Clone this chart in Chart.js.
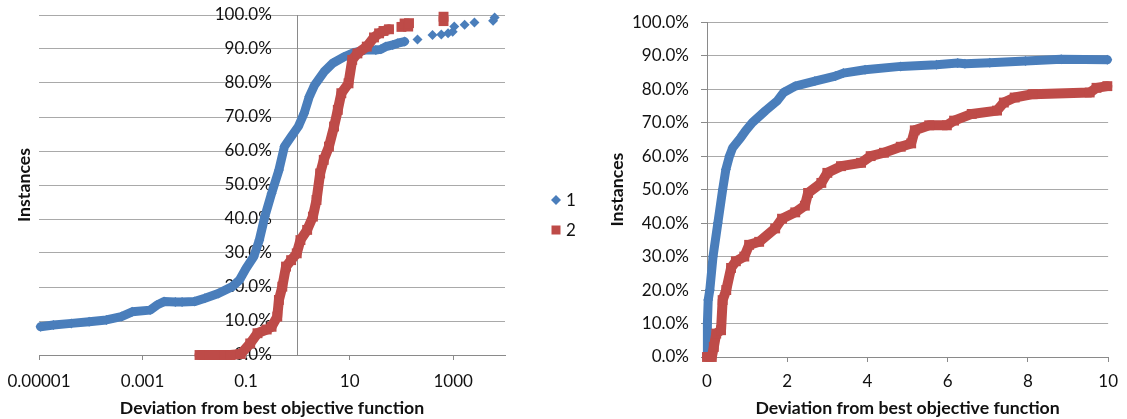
<!DOCTYPE html>
<html>
<head>
<meta charset="utf-8">
<script src="https://cdn.jsdelivr.net/npm/chart.js@4.4.0/dist/chart.umd.min.js"></script>
<style>
  body { margin: 0; background: #fff; }
  #wrap { position: relative; width: 1127px; height: 419px; }
  #left { position: absolute; left: 0; top: 0; }
  #right { position: absolute; left: 590px; top: 0; }
</style>
</head>
<body>
<div id="wrap">
  <canvas id="left" width="590" height="419"></canvas>
  <canvas id="right" width="537" height="419"></canvas>
</div>
<script>
const seriesNames = ['1', '2'];
const seriesColors = ['#4A7EBB', '#BE4B48'];

// left chart: deviation on a log axis
const leftX1 = [1.07e-5, 1.9e-5, 4.2e-5, 9.3e-5, 2.0e-4, 3.9e-4, 6.3e-4, 1.4e-3, 1.9e-3, 2.6e-3,
  4.3e-3, 5.8e-3, 0.010, 0.016, 0.029, 0.054, 0.074, 0.10, 0.14, 0.18,
  0.23, 0.31, 0.43, 0.55, 0.74, 1.02, 1.32, 1.66, 2.1, 3.2,
  4.7, 7.6, 12, 19.5, 32, 40, 50, 68, 85, 115,
  204, 398, 589, 794, 977, 1047, 1660, 2570, 5890, 6310];
const leftY1 = [8.3, 8.8, 9.3, 9.8, 10.3, 11.3, 12.7, 13.2, 14.7, 15.7,
  15.6, 15.6, 15.7, 16.7, 18.1, 20.1, 22, 25.5, 28.9, 33.8,
  40.7, 47.5, 54.4, 61.3, 64.2, 67.2, 71.1, 76, 79.4, 83.3,
  85.8, 87.6, 88.9, 89.7, 89.7, 89.9, 90.7, 91.2, 91.7, 92.2,
  92.8, 94.1, 94.3, 94.6, 95.1, 96.6, 97.1, 97.8, 98.3, 99.3];
const leftX2 = [0.0126, 0.025, 0.05, 0.079, 0.12, 0.166, 0.25, 0.31, 0.40, 0.43,
  0.50, 0.59, 0.74, 0.95, 1.12, 1.51, 1.95, 2.29, 2.69, 3.16,
  3.98, 5.0, 5.9, 6.9, 9.5, 11.2, 14.1, 21.4, 29.5, 37,
  45, 57.5, 100, 115, 135, 140, 650, 650];
const leftY2 = [0, 0, 0, 0.3, 3.4, 6.4, 7.5, 8.3, 11.3, 16.2,
  20.1, 26, 27.9, 29.9, 33.8, 36.8, 40.7, 45.6, 53.4, 57.4,
  61.3, 67.2, 72.1, 77, 79.9, 86.8, 88.7, 90.7, 93.4, 94.6,
  95.3, 95.8, 96.5, 97.5, 96.6, 97.6, 98.2, 99.5];
// past these x values the markers stand alone instead of forming a band
const leftBandEnd = [115, 57.5];
const leftXTicks = [0.00001, 0.001, 0.1, 10, 1000];
const leftXTickLabels = ['0.00001', '0.001', '0.1', '10', '1000'];

// right chart: deviation 0..10
const rightX1 = [0, 0.01, 0.03, 0.07, 0.15, 0.27, 0.39, 0.47, 0.56, 0.64,
  0.84, 0.97, 1.13, 1.46, 1.75, 1.91, 2.2, 2.69, 3.2, 3.4,
  3.94, 4.83, 5.72, 6.25, 6.43, 7.05, 7.94, 8.83, 9.98];
const rightY1 = [1, 10, 17, 20, 30, 40, 50, 56, 60, 62.5,
  65.5, 67.7, 70, 73.6, 76.5, 79, 80.9, 82.4, 83.9, 84.8,
  85.8, 86.8, 87.3, 87.8, 87.6, 87.9, 88.4, 88.9, 88.8];
const rightX2 = [0, 0.12, 0.17, 0.23, 0.35, 0.39, 0.48, 0.6, 0.72, 0.93,
  1.05, 1.3, 1.7, 1.87, 2.2, 2.44, 2.52, 2.85, 3.0, 3.34,
  3.84, 4.08, 4.41, 4.83, 5.09, 5.18, 5.54, 5.98, 6.16, 6.6,
  7.23, 7.4, 7.67, 8.12, 9.54, 9.71, 9.98];
const rightY2 = [0, 0, 3, 7, 8, 17, 20, 26.6, 28.6, 30,
  33.5, 34.4, 38.4, 41.3, 43.2, 45.2, 49, 52, 55, 57,
  58, 60, 61, 62.8, 63.8, 67.7, 69.2, 69.2, 70.6, 72.6,
  73.6, 76, 77.5, 78.5, 79, 80.4, 80.9];

const xTitle = 'Deviation from best objective function';
const yTitle = 'Instances';

const textColor = '#111';
const gridColor = '#a9a9a9';
const axisColor = '#8a8a8a';
const boldFont = { family: 'Lato', size: 17.7, weight: 'bold' };

Chart.defaults.font.family = 'Lato';
Chart.defaults.font.size = 17;
Chart.defaults.color = textColor;

function makeSet(i, xs, ys, bandEnd) {
  const diamond = i === 0;
  return {
    label: seriesNames[i],
    order: diamond ? 1 : 0,
    data: xs.map((x, k) => ({ x: x, y: ys[k] })),
    showLine: true,
    borderColor: seriesColors[i],
    backgroundColor: seriesColors[i],
    borderWidth: diamond ? 9 : 10,
    borderJoinStyle: 'round',
    borderCapStyle: 'round',
    pointStyle: diamond ? 'rectRot' : 'rect',
    pointRadius: diamond ? 5 : 7,
    pointHoverRadius: diamond ? 5 : 7,
    pointBorderWidth: 0,
    clip: false,
    segment: {
      borderColor: c => xs[c.p1DataIndex] > bandEnd ? 'transparent' : undefined
    }
  };
}

const pctLabel = v => v.toFixed(1) + '%';

// legend drawn beside the left plot
const sideLegend = {
  id: 'sideLegend',
  afterDraw(chart, args, opts) {
    if (!opts.show) return;
    const ctx = chart.ctx;
    ctx.save();
    ctx.font = '17px Lato';
    ctx.textBaseline = 'middle';
    ctx.textAlign = 'left';
    chart.data.datasets.forEach((ds, i) => {
      const y = opts.y + i * opts.gap;
      ctx.fillStyle = ds.backgroundColor;
      ctx.beginPath();
      if (ds.pointStyle === 'rectRot') {
        ctx.moveTo(opts.x, y - 5);
        ctx.lineTo(opts.x + 5, y);
        ctx.lineTo(opts.x, y + 5);
        ctx.lineTo(opts.x - 5, y);
        ctx.closePath();
      } else {
        ctx.rect(opts.x - 4.5, y - 4.5, 9, 9);
      }
      ctx.fill();
      ctx.fillStyle = textColor;
      ctx.fillText(ds.label, opts.x + 10, y + 1);
    });
    ctx.restore();
  }
};

new Chart(document.getElementById('left'), {
  type: 'scatter',
  data: {
    datasets: [
      makeSet(0, leftX1, leftY1, leftBandEnd[0]),
      makeSet(1, leftX2, leftY2, leftBandEnd[1])
    ]
  },
  options: {
    responsive: false,
    animation: false,
    events: [],
    layout: { padding: { left: 10, right: 85, top: 15, bottom: 0 } },
    plugins: {
      legend: { display: false },
      tooltip: { enabled: false },
      sideLegend: { show: true, x: 556, y: 200, gap: 30 }
    },
    scales: {
      x: {
        type: 'logarithmic',
        min: 1e-5,
        max: 1e4,
        afterBuildTicks: s => { s.ticks = leftXTicks.map(v => ({ value: v })); },
        afterFit: s => { s.height = 64; s.paddingLeft = 0; s.paddingRight = 0; },
        ticks: {
          autoSkip: false,
          maxRotation: 0,
          padding: 11,
          callback: v => leftXTickLabels[leftXTicks.indexOf(v)]
        },
        grid: { drawOnChartArea: false, drawTicks: true, tickLength: 5, color: axisColor },
        border: { color: axisColor },
        title: { display: true, text: xTitle, font: boldFont, padding: { top: 4, bottom: 0 } }
      },
      y: {
        min: 0,
        max: 100,
        position: { x: 1 },
        // an axis placed at x = 1 ignores tick padding, so trailing spaces keep the gap
        ticks: { stepSize: 10, callback: v => pctLabel(v) + '      ' },
        grid: { color: gridColor, drawTicks: false },
        border: { color: axisColor }
      },
      yt: {
        type: 'linear',
        position: 'left',
        min: 0,
        max: 100,
        afterFit: s => { s.width = 29; },
        ticks: { display: false },
        grid: { display: false },
        border: { display: false },
        title: { display: true, text: yTitle, font: boldFont, padding: { top: 4, bottom: 4 } }
      }
    }
  },
  plugins: [sideLegend]
});

new Chart(document.getElementById('right'), {
  type: 'scatter',
  data: {
    datasets: [
      makeSet(0, rightX1, rightY1, Infinity),
      makeSet(1, rightX2, rightY2, Infinity)
    ]
  },
  options: {
    responsive: false,
    animation: false,
    events: [],
    layout: { padding: { left: 13, right: 13, top: 17, bottom: 0 } },
    plugins: {
      legend: { display: false },
      tooltip: { enabled: false }
    },
    scales: {
      x: {
        type: 'linear',
        min: 0,
        max: 10,
        afterFit: s => { s.height = 62; },
        ticks: { stepSize: 2, maxRotation: 0, padding: 9 },
        grid: { drawOnChartArea: false, drawTicks: true, tickLength: 5, color: axisColor },
        border: { color: axisColor },
        title: { display: true, text: xTitle, font: boldFont, padding: { top: 4, bottom: 0 } }
      },
      y: {
        min: 0,
        max: 100,
        afterFit: s => { s.width = 104; },
        ticks: { stepSize: 10, padding: 12, callback: pctLabel },
        grid: { color: gridColor, drawTicks: true, tickLength: 6, tickColor: axisColor },
        border: { color: axisColor },
        title: { display: true, text: yTitle, font: boldFont, padding: { top: 4, bottom: 4 } }
      }
    }
  }
});
</script>
</body>
</html>
